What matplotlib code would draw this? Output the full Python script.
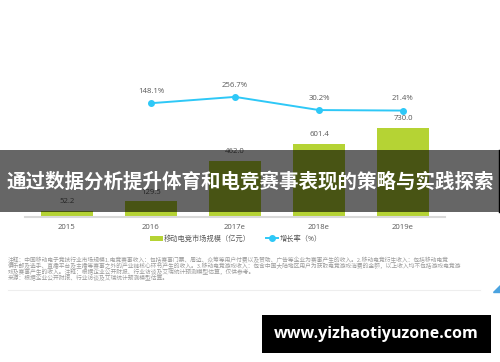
import matplotlib
matplotlib.use("Agg")
import matplotlib.pyplot as plt
from matplotlib.patches import Rectangle, Polygon
from matplotlib.lines import Line2D

plt.rcParams['font.family'] = ['Open Sans', 'Noto Sans CJK SC', 'DejaVu Sans']

categories = ["2015", "2016", "2017e", "2018e", "2019e"]
market_size = [52.2, 129.5, 462.0, 601.4, 730.0]
growth_cats = ["2016", "2017e", "2018e", "2019e"]
growth_rate = [148.1, 256.7, 30.2, 21.4]
bar_label_name = "移动电竞市场规模（亿元）"
line_label_name = "增长率（%）"
title_text = "通过数据分析提升体育和电竞赛事表现的策略与实践探索"
watermark = "www.yizhaotiyuzone.com"
footnote = [
    "注释：中国移动电子竞技行业市场规模1.电竞赛事收入：包括赛事门票、周边、众筹等用户付费以及赞助、广告等企业为赛事产生的收入。2.移动电竞衍生收入：包括移动电竞",
    "俱乐部及选手、直播平台及主播等赛事之外的产业链核心环节产生的收入。3.移动电竞游戏收入：包含中国大陆地区用户为获取电竞游戏消费的金额，以上收入均不包括游戏电竞游",
    "戏及赛事产生的收入。注释：根据企业公开财报、行业访谈及艾瑞统计预测模型估算，仅供参考。",
    "来源：根据企业公开财报、行业访谈及艾瑞统计预测模型估算。",
]

W, H = 500, 362
fig = plt.figure(figsize=(W / 100, H / 100), dpi=100)
fig.patch.set_facecolor("white")

def fx(px):
    return px / W

def fy(py):
    return (H - py) / H

ax = fig.add_axes([fx(25), fy(217), fx(445) - fx(25), fy(20) - fy(217)])
ax.set_xlim(-0.5, 4.5)
ax.set_ylim(0, 1615)
for s in ["top", "right", "left"]:
    ax.spines[s].set_visible(False)
ax.spines["bottom"].set_color("#d9d9d9")
ax.spines["bottom"].set_linewidth(1.5)
ax.set_yticks([])
ax.tick_params(axis="x", length=0, pad=5, labelsize=5.6, labelcolor="#595959")

xpos = list(range(len(categories)))
bars = ax.bar(xpos, market_size, width=0.63, color="#b5d334", label=bar_label_name, zorder=2)
ax.set_xticks(xpos)
ax.set_xticklabels(categories)
for x, v in zip(xpos, market_size):
    ax.annotate(f"{v:.1f}", (x, v), xytext=(0, 4), textcoords="offset points",
                ha="center", va="bottom", fontsize=5.6, color="#595959")

ax2 = ax.twinx()
ax2.set_ylim(-1809, 1579)
ax2.axis("off")
gx = [categories.index(c) for c in growth_cats]
line, = ax2.plot(gx, growth_rate, color="#2ec8f7", lw=1.4, marker="o", ms=4,
                 label=line_label_name, zorder=3)
for x, v in zip(gx, growth_rate):
    ax2.annotate(f"{v:.1f}%", (x, v), xytext=(0, 6), textcoords="offset points",
                 ha="center", va="bottom", fontsize=5.6, color="#595959")

fig.legend(handles=[bars, line], labels=[bar_label_name, line_label_name],
           loc="center", bbox_to_anchor=(fx(236), fy(239)), ncol=2, frameon=False,
           fontsize=5.2, labelcolor="#595959", handlelength=1.7, handleheight=0.7,
           handletextpad=0.2, columnspacing=2.0)

for i, t in enumerate(footnote):
    fig.text(fx(8), fy(260 + i * 6.0), t, fontsize=4.15, color="#9a9a9a",
             ha="left", va="center", family=["Noto Sans CJK SC", "DejaVu Sans"])
fig.add_artist(Line2D([fx(8), fx(480)], [fy(290), fy(290)], color="#eeeeee", lw=0.8))
fig.add_artist(Polygon([[fx(493), fy(292)], [fx(500), fy(292)], [fx(500), fy(285)]],
                       closed=True, color="#4aa3e0", transform=fig.transFigure))

# banner
fig.add_artist(Rectangle((0, fy(212)), 1, fy(150) - fy(212), transform=fig.transFigure,
                         facecolor="black", alpha=0.6, edgecolor="none", zorder=10))
fig.add_artist(Line2D([fx(499), fx(499)], [fy(150), fy(212)], color="black", lw=1, zorder=11))
fig.text(0.5, fy(182), title_text, ha="center", va="center", color="white",
         fontsize=14, fontweight="bold", family=["Noto Sans CJK SC", "DejaVu Sans"], zorder=12)

# watermark
fig.add_artist(Rectangle((fx(262), fy(353)), fx(491) - fx(262), fy(315) - fy(353),
                         transform=fig.transFigure, facecolor="black", edgecolor="none", zorder=10))
fig.text(fx(376), fy(334), watermark, ha="center", va="center", color="white",
         fontsize=11.5, fontweight="bold", zorder=12)

fig.savefig("out.png", dpi=100)
